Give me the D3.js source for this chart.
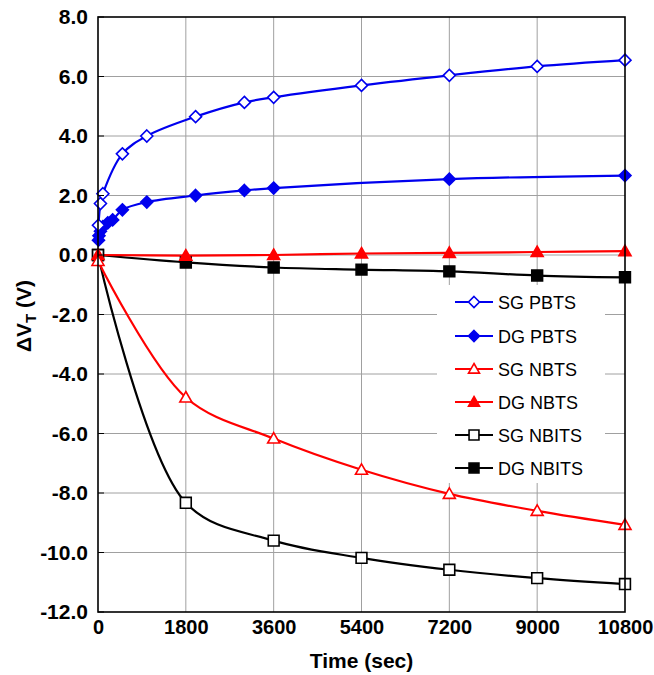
<!DOCTYPE html>
<html>
<head>
<meta charset="utf-8">
<script src="https://cdn.jsdelivr.net/npm/d3@7"></script>
<style>
  html, body { margin: 0; padding: 0; background: #ffffff; }
  svg { display: block; font-family: "Liberation Sans", Arial, sans-serif; }
</style>
</head>
<body>
<div id="chart"></div>
<script>
// ---- data ----
const xTicks = [0, 1800, 3600, 5400, 7200, 9000, 10800];
const yTicks = [8, 6, 4, 2, 0, -2, -4, -6, -8, -10, -12];

const sgPbtsTime = [10, 50, 100, 500, 1000, 2000, 3000, 3600, 5400, 7200, 9000, 10800];
const sgPbtsVal  = [1.0, 1.73, 2.06, 3.4, 4.0, 4.65, 5.13, 5.3, 5.7, 6.04, 6.34, 6.55];

const dgPbtsTime = [10, 20, 50, 100, 200, 300, 500, 1000, 2000, 3000, 3600, 7200, 10800];
const dgPbtsVal  = [0.5, 0.65, 0.8, 0.95, 1.08, 1.18, 1.52, 1.78, 2.0, 2.17, 2.25, 2.55, 2.67];

const nTime = [0, 1800, 3600, 5400, 7200, 9000, 10800];
const sgNbtsVal  = [-0.2, -4.79, -6.17, -7.22, -8.03, -8.6, -9.07];
const dgNbtsVal  = [0.0, -0.02, 0.0, 0.05, 0.07, 0.1, 0.13];
const sgNbitsVal = [0.0, -8.33, -9.6, -10.18, -10.58, -10.86, -11.06];
const dgNbitsVal = [0.0, -0.25, -0.42, -0.49, -0.55, -0.69, -0.75];

const seriesNames  = ["SG PBTS", "DG PBTS", "SG NBTS", "DG NBTS", "SG NBITS", "DG NBITS"];
const seriesColors = ["#0000ee", "#0000ee", "#ff0000", "#ff0000", "#000000", "#000000"];
const seriesSymbols = ["diamond", "diamond", "triangle", "triangle", "square", "square"];
const seriesFilled = [false, true, false, true, false, true];
const seriesTimes = [sgPbtsTime, dgPbtsTime, nTime, nTime, nTime, nTime];
const seriesVals  = [sgPbtsVal, dgPbtsVal, sgNbtsVal, dgNbtsVal, sgNbitsVal, dgNbitsVal];

// ---- layout ----
const W = 654, H = 675;
const L = 98, R = 625, T = 17, B = 612;

const svg = d3.select("#chart").append("svg").attr("width", W).attr("height", H);

const x = d3.scaleLinear().domain([0, 10800]).range([L, R]);
const y = d3.scaleLinear().domain([-12, 8]).range([B, T]);

// gridlines
const grid = svg.append("g");
grid.selectAll("line.gx").data(xTicks.slice(1, -1)).join("line")
  .attr("x1", d => x(d)).attr("x2", d => x(d)).attr("y1", T).attr("y2", B)
  .attr("stroke", "#a0a0a0").attr("stroke-width", 1);
grid.selectAll("line.gy").data(yTicks.slice(1, -1)).join("line")
  .attr("y1", d => y(d)).attr("y2", d => y(d)).attr("x1", L).attr("x2", R)
  .attr("stroke", "#a0a0a0").attr("stroke-width", 1);

// legend background (covers gridlines)
const legX = 437, legY = 285, legW = 168, legH = 198;
svg.append("rect").attr("x", legX).attr("y", legY).attr("width", legW).attr("height", legH)
  .attr("fill", "#ffffff");

// symbols
function symbolPath(type, size) {
  const s = size / 2;
  if (type === "diamond") return `M0,${-s}L${s},0L0,${s}L${-s},0Z`;
  if (type === "square") return `M${-s * 0.9},${-s * 0.9}H${s * 0.9}V${s * 0.9}H${-s * 0.9}Z`;
  // triangle
  return `M0,${-s}L${s},${s * 0.75}L${-s},${s * 0.75}Z`;
}

const line = d3.line().curve(d3.curveCatmullRom.alpha(0.5));

// draw series (reverse order so blue on top of others)
const order = [5, 4, 3, 2, 1, 0];
order.forEach(i => {
  const pts = seriesTimes[i].map((t, j) => [x(t), y(seriesVals[i][j])]);
  svg.append("path").attr("d", line(pts)).attr("fill", "none")
    .attr("stroke", seriesColors[i]).attr("stroke-width", 2.2);
});
order.forEach(i => {
  const pts = seriesTimes[i].map((t, j) => [x(t), y(seriesVals[i][j])]);
  svg.append("g").selectAll("path").data(pts).join("path")
    .attr("transform", d => `translate(${d[0]},${d[1]})`)
    .attr("d", symbolPath(seriesSymbols[i], 12))
    .attr("fill", seriesFilled[i] ? seriesColors[i] : "#ffffff")
    .attr("stroke", seriesColors[i]).attr("stroke-width", 1.6);
});

// frame
svg.append("rect").attr("x", L).attr("y", T).attr("width", R - L).attr("height", B - T)
  .attr("fill", "none").attr("stroke", "#000").attr("stroke-width", 1.6);

// axes (labels only; ticks inside)
const xAxis = d3.axisBottom(x).tickValues(xTicks).tickSize(0).tickPadding(8).tickFormat(d3.format("d"));
const gx = svg.append("g").attr("transform", `translate(0,${B})`).call(xAxis);
gx.select(".domain").remove();
gx.selectAll("text").attr("font-size", 20).attr("font-weight", "bold").attr("fill", "#000")
  .attr("font-family", "Liberation Sans, Arial, sans-serif");

const yAxis = d3.axisLeft(y).tickValues(yTicks).tickSize(0).tickPadding(10).tickFormat(d3.format(".1f"));
const gy = svg.append("g").attr("transform", `translate(${L},0)`).call(yAxis);
gy.select(".domain").remove();
gy.selectAll("text").attr("font-size", 21).attr("font-weight", "bold").attr("fill", "#000")
  .attr("font-family", "Liberation Sans, Arial, sans-serif")
  .text(d => d3.format(".1f")(d).replace("−", "-"));

// inner tick marks
svg.append("g").selectAll("line").data(yTicks).join("line")
  .attr("x1", L).attr("x2", L + 6).attr("y1", d => y(d)).attr("y2", d => y(d))
  .attr("stroke", "#000").attr("stroke-width", 1);

// axis titles
svg.append("text").attr("x", (L + R) / 2).attr("y", 668).attr("text-anchor", "middle")
  .attr("font-size", 21).attr("font-weight", "bold").text("Time (sec)");

const yt = svg.append("text").attr("transform", "translate(31,316) rotate(-90)")
  .attr("text-anchor", "middle").attr("font-size", 21).attr("font-weight", "bold");
yt.append("tspan").text("ΔV");
yt.append("tspan").attr("font-size", 15).attr("dy", 5).text("T");
yt.append("tspan").attr("dy", -5).text(" (V)");

// legend
const legRowY = [302, 336, 369, 402, 435, 468];
seriesNames.forEach((name, i) => {
  const g = svg.append("g").attr("transform", `translate(0,${legRowY[i]})`);
  g.append("line").attr("x1", 455).attr("x2", 493).attr("y1", 0).attr("y2", 0)
    .attr("stroke", seriesColors[i]).attr("stroke-width", 2.2);
  g.append("path").attr("transform", "translate(474,0)")
    .attr("d", symbolPath(seriesSymbols[i], 11))
    .attr("fill", seriesFilled[i] ? seriesColors[i] : "#ffffff")
    .attr("stroke", seriesColors[i]).attr("stroke-width", 1.6);
  g.append("text").attr("x", 498).attr("y", 6.5).attr("font-size", 18).attr("fill", "#000")
    .text(name);
});
</script>
</body>
</html>
